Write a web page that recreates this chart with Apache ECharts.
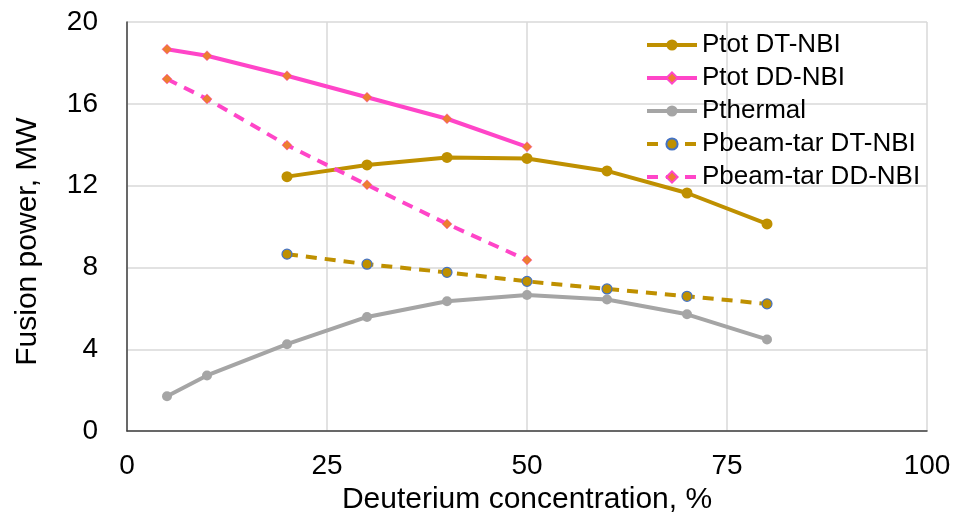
<!DOCTYPE html>
<html><head><meta charset="utf-8">
<script src="https://cdn.jsdelivr.net/npm/echarts@6/dist/echarts.min.js"></script>
<style>html,body{margin:0;padding:0;background:#fff}#c{width:954px;height:520px}</style>
</head><body><div id="c"></div>
<script>
const xDD = [5, 10, 20, 30, 40, 50];
const xDT = [20, 30, 40, 50, 60, 70, 80];
const xTh = [5, 10, 20, 30, 40, 50, 60, 70, 80];
const ptotDT = [12.44, 13.01, 13.38, 13.33, 12.72, 11.64, 10.13];
const ptotDD = [18.67, 18.35, 17.37, 16.32, 15.27, 13.9];
const pthermal = [1.70, 2.72, 4.25, 5.58, 6.35, 6.65, 6.43, 5.71, 4.48];
const pbeamDT = [8.65, 8.16, 7.76, 7.32, 6.95, 6.59, 6.22];
const pbeamDD = [17.21, 16.24, 13.98, 12.04, 10.13, 8.36];
const names = ['Ptot DT-NBI', 'Ptot DD-NBI', 'Pthermal', 'Pbeam-tar DT-NBI', 'Pbeam-tar DD-NBI'];
const xTitle = 'Deuterium concentration, %';
const yTitle = 'Fusion power, MW';

const pair = (xs, ys) => xs.map((x, i) => [x, ys[i]]);
const GOLD = '#BF9000', PINK = '#FF45C8', GRAY = '#A5A5A5', ORANGE = '#ED7D31', BLUE = '#4472C4';
const font = 'Liberation Sans, Arial, sans-serif';

const chart = echarts.init(document.getElementById('c'), null, {renderer: 'canvas'});
chart.setOption({
  animation: false,
  backgroundColor: '#fff',
  grid: {left: 127, right: 27, top: 22, bottom: 85, containLabel: false},
  legend: {
    orient: 'vertical', left: 640, top: 27, itemWidth: 50, itemHeight: 14, itemGap: 7,
    lineStyle: {width: 4},
    textStyle: {fontFamily: font, fontSize: 26, color: '#000', lineHeight: 26},
    data: names
  },
  xAxis: {
    type: 'value', min: 0, max: 100, interval: 25,
    name: xTitle, nameLocation: 'middle', nameGap: 51,
    nameTextStyle: {fontFamily: font, fontSize: 30, color: '#000'},
    axisLine: {lineStyle: {color: '#404040', width: 1.5}},
    axisTick: {show: false},
    axisLabel: {fontFamily: font, fontSize: 28, color: '#000', margin: 21},
    splitLine: {lineStyle: {color: '#D9D9D9', width: 1.5}}
  },
  yAxis: {
    type: 'value', min: 0, max: 20, interval: 4,
    name: yTitle, nameLocation: 'middle', nameGap: 84,
    nameTextStyle: {fontFamily: font, fontSize: 30, color: '#000', padding: [0, 30, 0, 0]},
    axisLine: {show: true, lineStyle: {color: '#404040', width: 1.5}},
    axisTick: {show: false},
    axisLabel: {fontFamily: font, fontSize: 28, color: '#000', margin: 29},
    splitLine: {lineStyle: {color: '#D9D9D9', width: 1.5}}
  },
  series: [
    {name: names[0], type: 'line', data: pair(xDT, ptotDT), symbol: 'circle', symbolSize: 11,
     lineStyle: {color: GOLD, width: 4}, itemStyle: {color: GOLD}},
    {name: names[1], type: 'line', data: pair(xDD, ptotDD), symbol: 'diamond', symbolSize: 10,
     lineStyle: {color: PINK, width: 4}, itemStyle: {color: ORANGE, borderColor: PINK, borderWidth: 0.5}},
    {name: names[2], type: 'line', data: pair(xTh, pthermal), symbol: 'circle', symbolSize: 10,
     lineStyle: {color: GRAY, width: 4}, itemStyle: {color: GRAY}},
    {name: names[3], type: 'line', data: pair(xDT, pbeamDT), symbol: 'circle', symbolSize: 10,
     lineStyle: {color: GOLD, width: 4, type: [11, 8]}, itemStyle: {color: GOLD, borderColor: BLUE, borderWidth: 1.2}},
    {name: names[4], type: 'line', data: pair(xDD, pbeamDD), symbol: 'diamond', symbolSize: 10,
     lineStyle: {color: PINK, width: 4, type: [11, 8]}, itemStyle: {color: ORANGE, borderColor: PINK, borderWidth: 0.5}}
  ]
});
</script></body></html>
